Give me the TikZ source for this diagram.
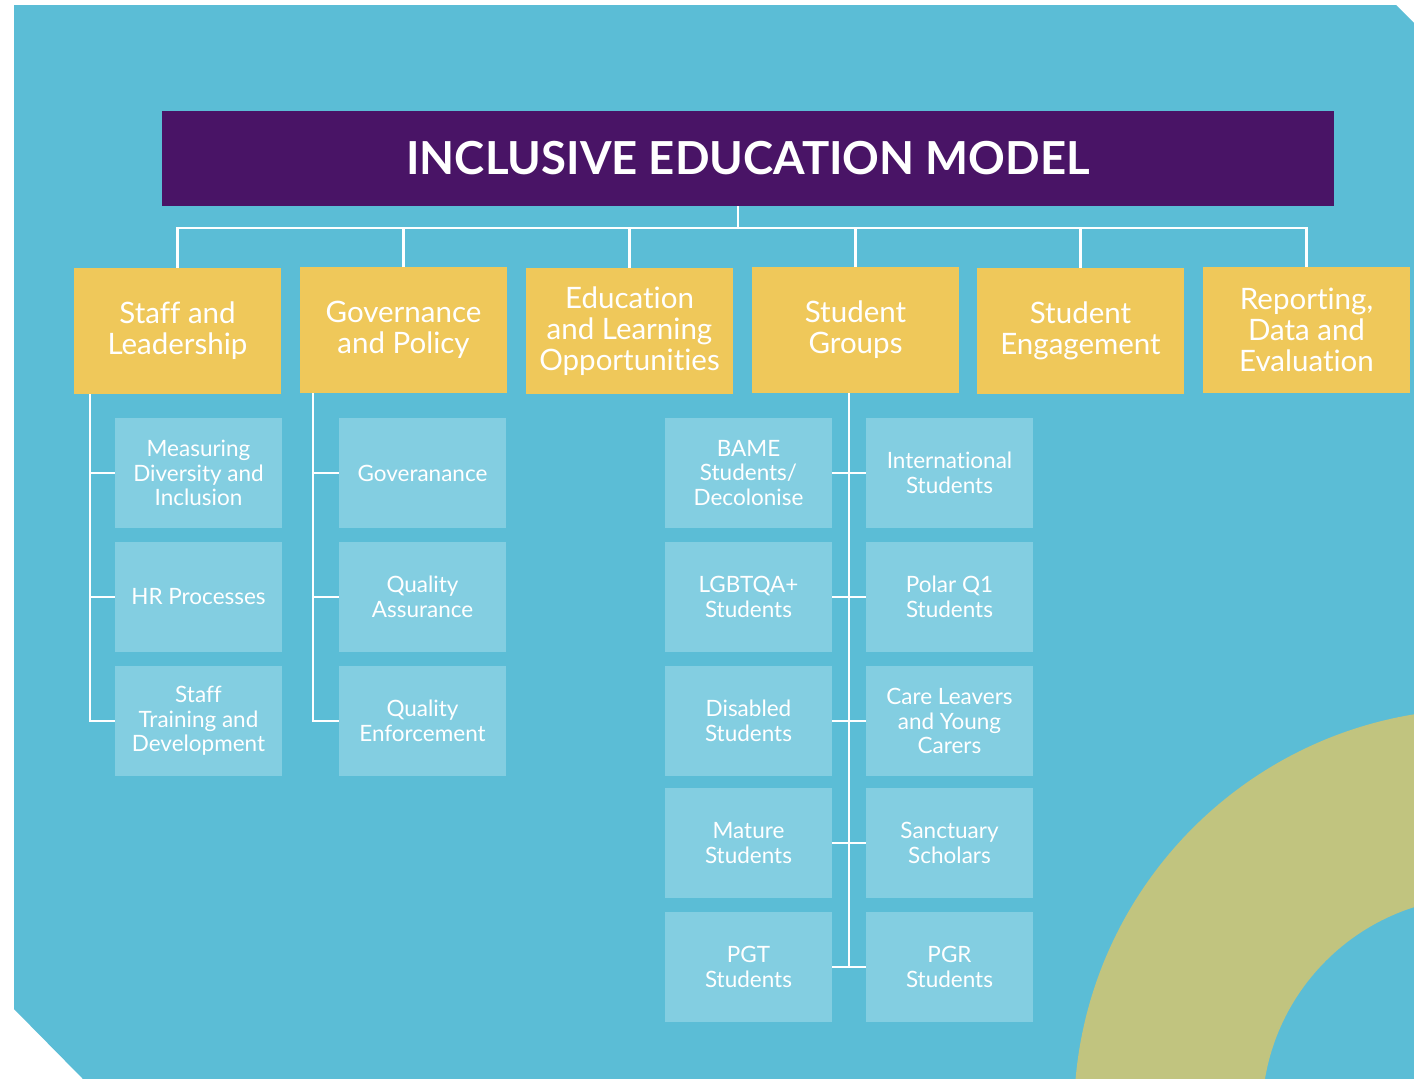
\documentclass[tikz,border=0pt]{standalone}
\usepackage{fontspec}
\setmainfont{Lato}[Ligatures=NoCommon]
\definecolor{bgblue}{HTML}{5BBDD6}
\definecolor{subblue}{HTML}{83CEE1}
\definecolor{ybox}{HTML}{EFC85A}
\definecolor{purp}{HTML}{491466}
\definecolor{olive}{HTML}{C1C47F}
\tikzset{
  titlebox/.style={fill=purp, minimum width=1172pt, minimum height=95pt, inner sep=0pt, text=white, font=\fontsize{45.5}{50}\selectfont\bfseries},
  headbox/.style={fill=ybox, minimum width=207pt, minimum height=126pt, inner sep=0pt, align=center, text=white, font=\fontsize{29.5}{31}\selectfont},
  subbox/.style={fill=subblue, minimum width=167pt, minimum height=110pt, inner sep=0pt, align=center, text=white, font=\fontsize{22.5}{24.5}\selectfont},
  conn/.style={draw=white, line width=2.2pt},
}
\begin{document}
\begin{tikzpicture}[x=1pt,y=-1pt]
\fill[white] (0,0) rectangle (1414,1079);
\useasboundingbox (0,0) rectangle (1414,1079);
\fill[bgblue] (14,5) -- (1396,5) -- (1414,23) -- (1414,1079) -- (83,1079) -- (14,1009) -- cycle;
\begin{scope}
\clip (14,5) -- (1396,5) -- (1414,23) -- (1414,1079) -- (83,1079) -- (14,1009) -- cycle;
\fill[olive, even odd rule] (1480,1115) circle[radius=406pt] (1480,1115) circle[radius=218pt];
\end{scope}

\node[titlebox] (title) at (748,158.5) {INCLUSIVE EDUCATION MODEL};

\node[headbox] (h1) at (177.5,331) {Staff and\\Leadership};
\node[headbox] (h2) at (403.5,330) {Governance\\and Policy};
\node[headbox] (h3) at (629.5,331) {Education\\and Learning\\Opportunities};
\node[headbox] (h4) at (855.5,330) {Student\\Groups};
\node[headbox] (h5) at (1080.5,331) {Student\\Engagement};
\node[headbox] (h6) at (1306.5,330) {Reporting,\\Data and\\Evaluation};

\coordinate (bus) at (738,228);
\draw[conn] (title.south -| bus) -- (bus);
\draw[conn] (h1.north) -- (h1.north |- bus) -- (h6.north |- bus) -- (h6.north);
\foreach \i in {2,3,4,5} \draw[conn] (h\i.north) -- (h\i.north |- bus);

% column 1
\node[subbox] (a1) at (198.5,473) {Measuring\\Diversity and\\Inclusion};
\node[subbox] (a2) at (198.5,597) {HR Processes};
\node[subbox] (a3) at (198.5,721) {Staff\\Training and\\Development};
\coordinate (ta) at (90,394);
\draw[conn] (ta) |- (a3.west);
\draw[conn] (a1.west) -- (a1.west -| ta);
\draw[conn] (a2.west) -- (a2.west -| ta);

% column 2
\node[subbox] (b1) at (422.5,473) {Goveranance};
\node[subbox] (b2) at (422.5,597) {Quality\\Assurance};
\node[subbox] (b3) at (422.5,721) {Quality\\Enforcement};
\coordinate (tb) at (313,393);
\draw[conn] (tb) |- (b3.west);
\draw[conn] (b1.west) -- (b1.west -| tb);
\draw[conn] (b2.west) -- (b2.west -| tb);

% student groups
\node[subbox] (c1) at (748.5,473) {BAME\\Students/\\Decolonise};
\node[subbox] (c2) at (748.5,597) {LGBTQA+\\Students};
\node[subbox] (c3) at (748.5,721) {Disabled\\Students};
\node[subbox] (c4) at (748.5,843) {Mature\\Students};
\node[subbox] (c5) at (748.5,967) {PGT\\Students};
\node[subbox] (d1) at (949.5,473) {International\\Students};
\node[subbox] (d2) at (949.5,597) {Polar Q1\\Students};
\node[subbox] (d3) at (949.5,721) {Care Leavers\\and Young\\Carers};
\node[subbox] (d4) at (949.5,843) {Sanctuary\\Scholars};
\node[subbox] (d5) at (949.5,967) {PGR\\Students};
\coordinate (tc) at (849,393);
\draw[conn] (tc) -- (tc |- c5.east);
\foreach \i in {1,...,5} \draw[conn] (c\i.east) -- (d\i.west);
\end{tikzpicture}
\end{document}
